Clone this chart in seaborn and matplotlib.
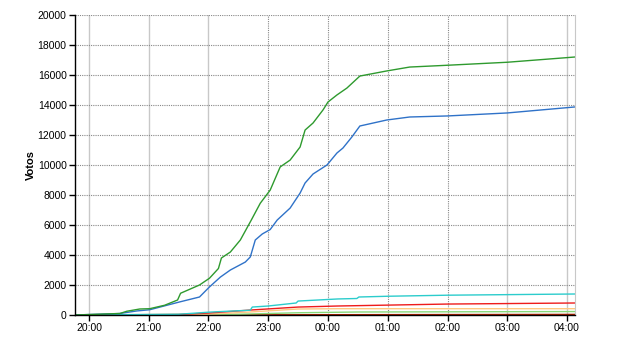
import matplotlib
matplotlib.use("Agg")
import matplotlib.pyplot as plt
import seaborn as sns
import pandas as pd

# ---- data (time "HH:MM", cumulative votes) ----
green_t = ["19:46","20:31","20:38","20:51","21:01","21:16","21:29","21:32","21:51","22:01",
           "22:10","22:13","22:22","22:32","22:43","22:52","23:02","23:12","23:22","23:32",
           "23:37","23:45","23:55","00:00","00:09","00:19","00:32","00:59","01:22","02:00",
           "03:00","04:08"]
green_v = [0,100,250,400,420,650,1000,1450,2000,2450,
           3100,3800,4200,5000,6330,7450,8330,9870,10330,11200,
           12330,12800,13670,14200,14670,15130,15930,16270,16530,16650,
           16850,17200]

blue_t = ["19:46","20:31","20:48","21:01","21:31","21:51","22:01","22:12","22:22","22:37",
          "22:42","22:47","22:54","23:02","23:09","23:22","23:32","23:37","23:45","23:59",
          "00:09","00:15","00:24","00:32","00:59","01:22","02:00","03:00","04:08"]
blue_v = [0,100,270,350,870,1200,1870,2530,3000,3530,
          3870,5000,5400,5700,6330,7130,8130,8800,9400,10000,
          10800,11130,11870,12600,13000,13200,13270,13470,13870]

cyan_t = ["19:46","21:30","22:03","22:42","22:44","23:00","23:28","23:30","00:10","00:29",
          "00:31","01:00","02:00","04:08"]
cyan_v = [0,50,200,320,530,600,800,930,1070,1100,
          1200,1250,1320,1400]

red_t = ["19:46","21:30","22:00","22:42","23:30","00:10","02:00","04:08"]
red_v = [0,30,130,330,530,600,730,800]

orange_t = ["19:46","22:00","22:42","23:30","00:10","04:08"]
orange_v = [0,50,200,400,420,420]

lgreen_t = ["19:46","22:30","23:30","00:30","04:08"]
lgreen_v = [0,50,150,200,230]

dred_t = ["19:46","04:08"]
dred_v = [0,40]

series = {
    "A": (green_t, green_v),
    "B": (blue_t, blue_v),
    "C": (cyan_t, cyan_v),
    "D": (red_t, red_v),
    "E": (orange_t, orange_v),
    "F": (lgreen_t, lgreen_v),
    "G": (dred_t, dred_v),
}
palette = {"A": "#2e9a2e", "B": "#2f72c8", "C": "#2ccccc", "D": "#ee1c1c",
           "E": "#ffc880", "F": "#88d878", "G": "#aa2200"}

def to_dt(s):
    h, m = map(int, s.split(":"))
    day = 20 if h >= 12 else 21
    return pd.Timestamp(2011, 11, day, h, m)

rows = []
for name, (ts, vs) in series.items():
    for t, v in zip(ts, vs):
        rows.append({"time": to_dt(t), "votos": v, "serie": name})
df = pd.DataFrame(rows)

yticks = list(range(0, 20001, 2000))
xtick_labels = ["20:00","21:00","22:00","23:00","00:00","01:00","02:00","03:00","04:00"]

plt.rcParams["font.family"] = ["Liberation Sans", "DejaVu Sans"]
fig = plt.figure(figsize=(6.4, 3.5), dpi=100)
ax = fig.add_axes([75/640, 35/350, 500/640, 300/350])

order = ["G", "F", "E", "D", "C", "B", "A"]
for name in order:
    sns.lineplot(data=df[df.serie == name], x="time", y="votos", color=palette[name],
                 lw=1, ax=ax, legend=False, estimator=None, sort=False)

ax.set_xlim(to_dt("19:46"), to_dt("04:08"))
ax.set_ylim(0, 20000)
ax.set_yticks(yticks)
ax.set_yticklabels([str(v) for v in yticks])
ax.set_xticks([to_dt(s) for s in xtick_labels])
ax.set_xticklabels(xtick_labels)
ax.tick_params(labelsize=7.5, length=4, width=1, color="black", pad=2)
ax.set_xlabel("")
ax.set_ylabel("Votos", fontsize=8, fontweight="bold", labelpad=1)

ax.grid(axis="y", color="#888888", linestyle=(0, (1, 1)), lw=0.8)
ax.grid(axis="x", color="#c8c8c8", linestyle="-", lw=1)
for i, gl in enumerate(ax.get_xgridlines()):
    if 3 <= i <= 6:
        gl.set_color("#888888")
        gl.set_linestyle((0, (1, 1)))
        gl.set_linewidth(0.8)
ax.set_axisbelow(True)

ax.spines["top"].set_visible(False)
ax.spines["right"].set_color("#c8c8c8")
ax.spines["left"].set_color("black")
ax.spines["bottom"].set_color("black")
ax.spines["left"].set_linewidth(1)
ax.spines["bottom"].set_linewidth(1)

fig.savefig("out.png", dpi=100, facecolor="white")
